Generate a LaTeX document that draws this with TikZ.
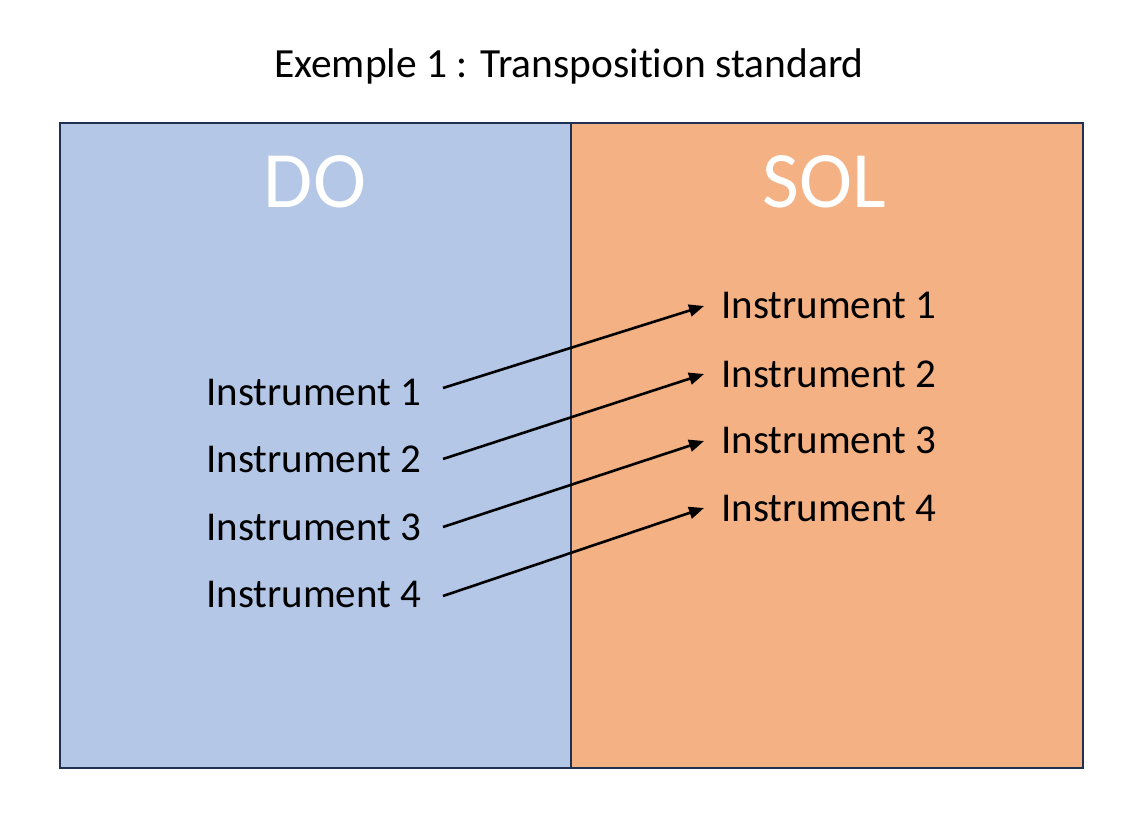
\documentclass[tikz,border=0pt]{standalone}
\usepackage{fontspec}
\setmainfont{Carlito}[Ligatures=NoCommon]
\usetikzlibrary{arrows.meta}
\definecolor{boxblue}{HTML}{B4C7E7}
\definecolor{boxorange}{HTML}{F4B183}
\definecolor{boxline}{HTML}{1F3152}
\tikzset{
  panel/.style={draw=boxline,line width=2pt},
  item/.style={anchor=base west,inner sep=0pt,font=\fontsize{41}{48}\selectfont,text=black},
  keyname/.style={anchor=base,inner sep=0pt,font=\fontsize{80}{90}\selectfont,text=white},
  mapto/.style={line width=2.6pt,-{Triangle[length=15pt,width=12pt]}}
}
\begin{document}
\begin{tikzpicture}[x=1pt,y=-1pt]
\useasboundingbox (0,0) rectangle (1148,836);
\fill[white] (0,0) rectangle (1148,836);
\node[anchor=base,inner sep=0pt,font=\fontsize{41.5}{48}\selectfont] (title) at (569,77) {Exemple 1 : Transposition standard};
\filldraw[panel,fill=boxblue] (60,123) rectangle (571,768);
\filldraw[panel,fill=boxorange] (571,123) rectangle (1083,768);
\node[keyname] (do) at (315,207) {DO};
\node[keyname] (sol) at (824,207) {SOL};
\node[item] (l1) at (206,405) {Instrument 1};
\node[item] (l2) at (206,472) {Instrument 2};
\node[item] (l3) at (206,540) {Instrument 3};
\node[item] (l4) at (206,607) {Instrument 4};
\node[item] (r1) at (721,318) {Instrument 1};
\node[item] (r2) at (721,387) {Instrument 2};
\node[item] (r3) at (721,453) {Instrument 3};
\node[item] (r4) at (721,521) {Instrument 4};
\coordinate (s1) at (443,388);
\coordinate (s2) at (443,459);
\coordinate (s3) at (443,527);
\coordinate (s4) at (443,596);
\coordinate (t1) at (704,306);
\coordinate (t2) at (704,374);
\coordinate (t3) at (704,441);
\coordinate (t4) at (704,508);
\draw[mapto] (s1) -- (t1);
\draw[mapto] (s2) -- (t2);
\draw[mapto] (s3) -- (t3);
\draw[mapto] (s4) -- (t4);
\end{tikzpicture}
\end{document}
